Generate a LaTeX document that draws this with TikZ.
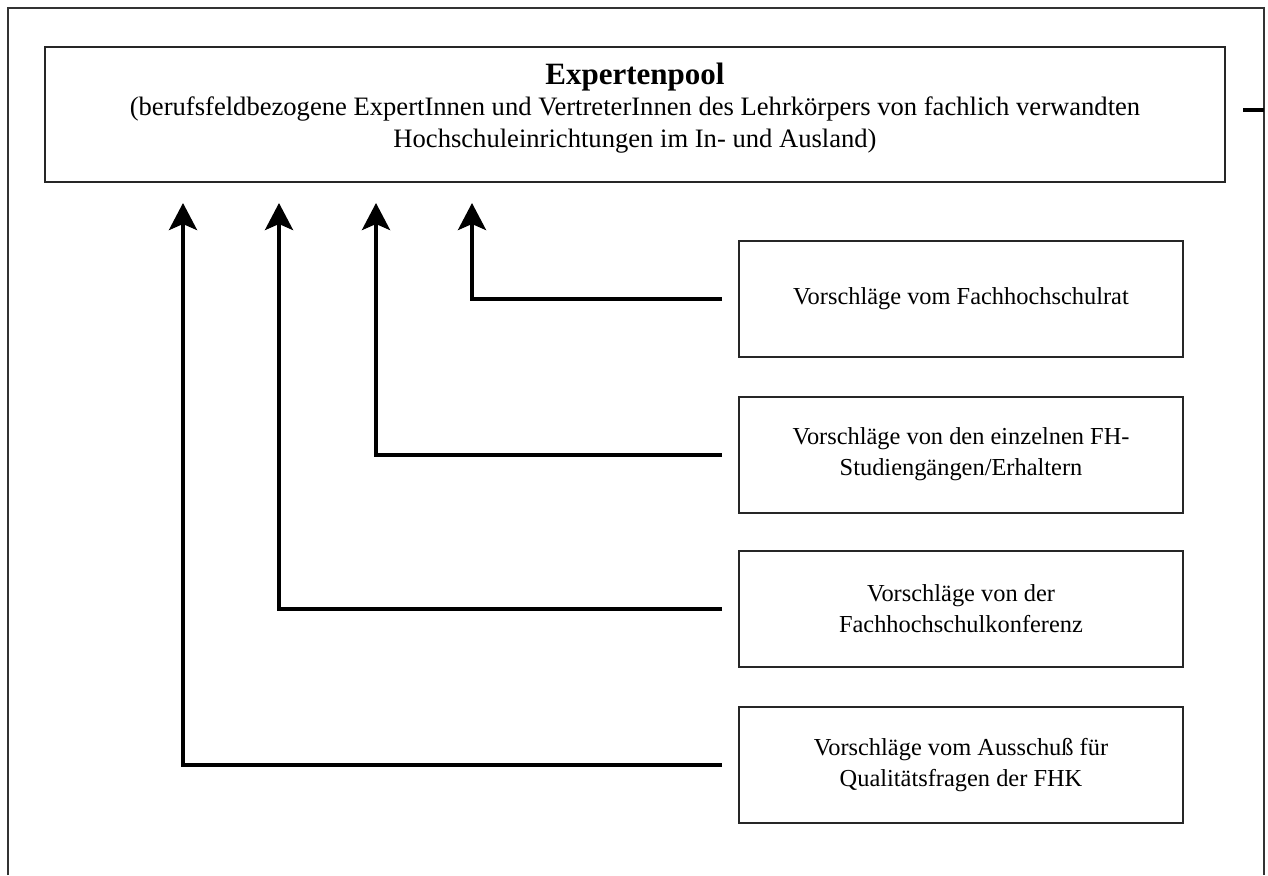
\documentclass[tikz,border=0pt]{standalone}
\usepackage{fontspec}
\setmainfont{Liberation Serif}
\usetikzlibrary{arrows.meta}

\tikzset{
  vbox/.style={draw=black!85, line width=1pt, minimum width=222pt, minimum height=58pt,
    align=center, font=\fontsize{12.2}{15.5}\selectfont, inner sep=0pt},
  conn/.style={line width=2pt, -{Stealth[length=13.5pt,width=14pt,inset=3pt]}}
}

\begin{document}
\begin{tikzpicture}[x=0.5pt,y=-0.5pt]
\useasboundingbox (0,0) rectangle (1268,875);
% frame
\draw[black!80, line width=1pt] (8,875)--(8,8)--(1264,8)--(1264,875);
\draw[line width=1.8pt] (1243,110)--(1264,110);
% pool
\node[draw=black!85, line width=1pt, minimum width=590pt, minimum height=67.5pt, inner sep=0pt,
  align=center, font=\fontsize{13.3}{16}\selectfont] (pool) at (635,114.5) {};
\node[align=center, inner sep=0pt, font=\fontsize{13.3}{16}\selectfont] (pooltxt) at (635,108)
  {{\fontsize{15.5}{17}\selectfont\bfseries Expertenpool}\\[-0.5pt]
   (berufsfeldbezogene ExpertInnen und VertreterInnen des Lehrkörpers von fachlich verwandten\\
   Hochschuleinrichtungen im In- und Ausland)};
% sources
\node[vbox] (rat) at (961,298.5) {Vorschläge vom Fachhochschulrat};
\node[vbox] (fh) at (961,454.5) {Vorschläge von den einzelnen FH-\\Studiengängen/Erhaltern};
\node[vbox] (fhk) at (961,608.5) {Vorschläge von der\\Fachhochschulkonferenz};
\node[vbox] (aq) at (961,765) {Vorschläge vom Ausschuß für\\Qualitätsfragen der FHK};
% arrow tips
\coordinate (t1) at (183,203);
\coordinate (t2) at (279,203);
\coordinate (t3) at (376,203);
\coordinate (t4) at (472,203);
\draw[conn] ([xshift=-8pt]rat.west) -| (t4);
\draw[conn] ([xshift=-8pt]fh.west) -| (t3);
\draw[conn] ([xshift=-8pt]fhk.west) -| (t2);
\draw[conn] ([xshift=-8pt]aq.west) -| (t1);
\end{tikzpicture}
\end{document}
